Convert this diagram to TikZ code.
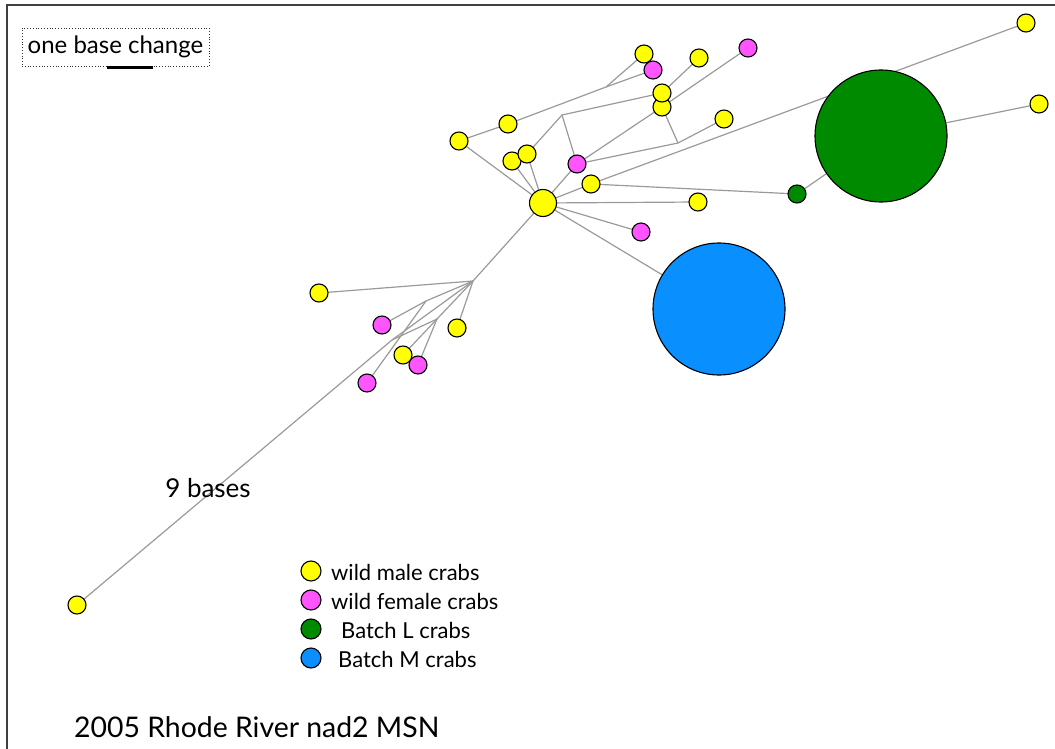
\documentclass[tikz,border=0pt]{standalone}
\usepackage{fontspec}
\setmainfont{Lato}
\usetikzlibrary{backgrounds}
\definecolor{cy}{HTML}{FFFF00}
\definecolor{cm}{HTML}{FF55FF}
\definecolor{cg}{HTML}{008A00}
\definecolor{cb}{HTML}{0A8FFF}
\definecolor{edgec}{HTML}{9A9A9A}
\begin{document}
\begin{tikzpicture}[x=1pt,y=-1pt,
  hap/.style={circle,draw=black,line width=1.1pt,inner sep=0pt,minimum size=18pt},
  ym/.style={hap,fill=cy},
  pf/.style={hap,fill=cm},
  gl/.style={hap,fill=cg},
  bm/.style={hap,fill=cb},
  link/.style={draw=edgec,line width=1.2pt},
  lab/.style={font=\fontsize{22}{22}\selectfont,anchor=west,inner sep=0pt}]
\useasboundingbox (0,0) rectangle (1055,749);
\draw[line width=1.2pt,draw=black!75] (7,749) -- (7,5) -- (1055,5);
% junctions
\coordinate (j1) at (606,87);
\coordinate (j2) at (562,115);
\coordinate (j3) at (678,143);
\coordinate (j4) at (473,281);
\coordinate (j5) at (426,301);
\coordinate (j6) at (437,319);
\coordinate (j7) at (392,340);
% big nodes
\node[gl,minimum size=132pt] (green) at (881,136) {};
\node[bm,minimum size=132pt] (blue) at (719,309) {};
% hub
\node[ym,minimum size=27pt] (hub) at (543,203) {};
% small nodes
\node[ym] (y1) at (644,54) {};
\node[pf] (p1) at (653,70) {};
\node[ym] (y2) at (699,58) {};
\node[pf] (p2) at (748,48) {};
\node[ym] (y4) at (662,107) {};
\node[ym] (y3) at (662,93) {};
\node[ym] (y5) at (724,119) {};
\node[ym] (y6) at (459,141) {};
\node[ym] (y7) at (508,124) {};
\node[ym] (y8) at (512,161) {};
\node[ym] (y9) at (527,154) {};
\node[pf] (p3) at (577,164) {};
\node[ym] (y10) at (591,184) {};
\node[ym] (y11) at (698,202) {};
\node[pf] (p4) at (641,232) {};
\node[gl] (g1) at (797,194) {};
\node[ym] (fy1) at (1026,23) {};
\node[ym] (fy2) at (1039,104) {};
\node[ym] (y12) at (319,293) {};
\node[pf] (p5) at (382,325) {};
\node[ym] (y13) at (457,328) {};
\node[ym] (y14) at (403,355) {};
\node[pf] (p7) at (418,365) {};
\node[pf] (p6) at (367,383) {};
\node[ym] (y0) at (77,605) {};
% connectors behind the nodes
\begin{scope}[on background layer]
\path[link] (hub.center) -- (y6.center) -- (y7.center) -- (j1) -- (p1.center);
\path[link] (j1) -- (y1.center);
\path[link] (hub.center) -- (y9.center) -- (j2) -- (y3.center) -- (y2.center);
\path[link] (hub.center) -- (y8.center);
\path[link] (j2) -- (p3.center) -- (hub.center);
\path[link] (p3.center) -- (y4.center) -- (p2.center);
\path[link] (p3.center) -- (j3) -- (y5.center);
\path[link] (j3) -- (y4.center);
\path[link] (hub.center) -- (y10.center) -- (fy1.center);
\path[link] (y10.center) -- (g1.center) -- (green.center) -- (fy2.center);
\path[link] (hub.center) -- (y11.center);
\path[link] (hub.center) -- (p4.center);
\path[link] (hub.center) -- (blue.center);
\path[link] (hub.center) -- (j4) -- (j7) -- (y0.center);
\path[link] (j4) -- (y12.center);
\path[link] (j4) -- (j5) -- (p5.center);
\path[link] (j5) -- (p6.center);
\path[link] (j4) -- (y13.center);
\path[link] (j4) -- (j6) -- (y14.center);
\path[link] (j6) -- (p7.center);
\path[link] (j7) -- (j6);
\end{scope}
% scale box
\node[draw=black!80,dotted,line width=0.8pt,minimum width=187pt,minimum height=38pt,inner sep=0pt,font=\fontsize{24}{24}\selectfont] (scale) at (115.5,47) {one base change};
\coordinate (sb1) at (107,68);
\coordinate (sb2) at (153,68);
\draw[line width=3pt] (sb1) -- (sb2);
\node[font=\fontsize{26}{26}\selectfont,inner sep=0pt] (nine) at (208,488) {9 bases};
% legend
\node[ym,minimum size=20pt] (l1) at (311,571) {};
\node[pf,minimum size=20pt] (l2) at (311,600) {};
\node[gl,minimum size=20pt] (l3) at (311,629) {};
\node[bm,minimum size=20pt] (l4) at (311,658) {};
\node[lab] (t1) at (331,572) {wild male crabs};
\node[lab] (t2) at (331,601) {wild female crabs};
\node[lab] (t3) at (341,630) {Batch L crabs};
\node[lab] (t4) at (338,659) {Batch M crabs};
\node[font=\fontsize{28.4}{28.4}\selectfont,anchor=west,inner sep=0pt] (title) at (74,727) {2005 Rhode River nad2 MSN};
\end{tikzpicture}
\end{document}
